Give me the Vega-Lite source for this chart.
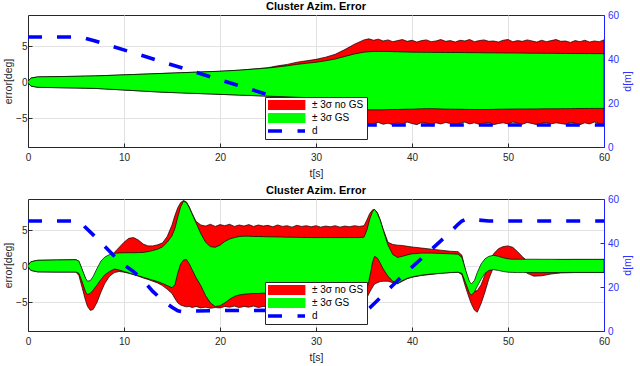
{
  "$schema": "https://vega.github.io/schema/vega-lite/v6.json",
  "padding": {"left": 3, "top": 0, "right": 0, "bottom": 0},
  "config": {
    "font": "Liberation Sans",
    "view": {"stroke": "#262626", "strokeWidth": 1},
    "axis": {"labelFont": "Liberation Sans", "labelFontSize": 10, "labelColor": "#262626", "titleFont": "Liberation Sans", "titleFontSize": 10.5, "titleFontWeight": "normal", "titleColor": "#262626", "domainColor": "#262626", "tickColor": "#262626", "tickSize": -4, "gridColor": "#e2e2e2", "gridOpacity": 1, "labelFlush": false},
    "title": {"font": "Liberation Sans", "fontSize": 11, "fontWeight": "bold", "color": "black", "offset": -2, "anchor": "middle"},
    "legend": {"title": null, "orient": "none", "fillColor": "white", "strokeColor": "#262626", "padding": 3, "rowPadding": 3, "clipHeight": 10, "labelFontSize": 10, "labelFont": "Liberation Sans", "labelColor": "black", "symbolSize": 100, "labelOffset": 34, "symbolType": "M-1,-1H6.4V1H-1Z", "symbolStrokeColor": "#000000", "symbolStrokeWidth": 0.8, "symbolOpacity": 1}
  },
  "datasets": {
    "top": [
      {"t":0,"gl":-0.1,"gh":0.1,"rl":-0.1,"rh":0.1,"d":50},
      {"t":0.3,"gl":-0.55,"gh":0.55,"rl":-0.55,"rh":0.55},
      {"t":1,"gl":-0.72,"gh":0.72,"rl":-0.72,"rh":0.72},
      {"t":2,"gl":-0.75,"gh":0.74,"rl":-0.75,"rh":0.74},
      {"t":4,"gl":-0.8,"gh":0.78,"rl":-0.8,"rh":0.78},
      {"t":5,"gl":-0.82,"gh":0.8,"rl":-0.82,"rh":0.8,"d":50},
      {"t":6,"gl":-0.85,"gh":0.83,"rl":-0.85,"rh":0.83,"d":49.4},
      {"t":7,"gl":-0.88,"gh":0.86,"rl":-0.88,"rh":0.86,"d":48.2},
      {"t":8,"gl":-0.95,"gh":0.9,"rl":-0.95,"rh":0.9},
      {"t":10,"gl":-1.1,"gh":1.0,"rl":-1.1,"rh":1.0},
      {"t":12,"gl":-1.25,"gh":1.1,"rl":-1.25,"rh":1.1},
      {"t":14,"gl":-1.4,"gh":1.2,"rl":-1.4,"rh":1.2},
      {"t":16,"gl":-1.5,"gh":1.3,"rl":-1.5,"rh":1.3},
      {"t":18,"gl":-1.6,"gh":1.4,"rl":-1.6,"rh":1.4},
      {"t":20,"gl":-1.7,"gh":1.5,"rl":-1.7,"rh":1.5},
      {"t":22,"gl":-1.8,"gh":1.65,"rl":-1.8,"rh":1.65},
      {"t":24,"gl":-1.9,"gh":1.85,"rl":-1.9,"rh":1.87},
      {"t":25,"gl":-1.95,"gh":1.95,"rl":-1.95,"rh":2.0},
      {"t":26,"gl":-2.0,"gh":2.1,"rl":-2.05,"rh":2.25},
      {"t":27,"gl":-2.05,"gh":2.25,"rl":-2.15,"rh":2.45},
      {"t":28,"gl":-2.1,"gh":2.45,"rl":-2.25,"rh":2.75},
      {"t":29,"gl":-2.15,"gh":2.6,"rl":-2.4,"rh":2.95},
      {"t":30,"gl":-2.2,"gh":2.75,"rl":-2.6,"rh":3.15},
      {"t":31,"gl":-2.4,"gh":2.95,"rl":-2.9,"rh":3.45},
      {"t":32,"gl":-2.7,"gh":3.2,"rl":-3.4,"rh":3.85},
      {"t":33,"gl":-3.1,"gh":3.55,"rl":-4.1,"rh":4.5},
      {"t":34,"gl":-3.55,"gh":3.9,"rl":-4.9,"rh":5.25},
      {"t":35,"gl":-3.8,"gh":4.15,"rl":-5.6,"rh":5.85,"d":10.2},
      {"t":35.5,"gl":-3.85,"gh":4.2,"rl":-5.75,"rh":6.0,"d":10},
      {"t":36,"gl":-3.85,"gh":4.25,"rl":-5.75,"rh":5.8},
      {"t":36.5,"gl":-3.85,"gh":4.25,"rl":-5.6,"rh":5.95},
      {"t":37,"gl":-3.85,"gh":4.25,"rl":-5.85,"rh":5.7},
      {"t":37.5,"gl":-3.82,"gh":4.25,"rl":-5.7,"rh":5.85},
      {"t":38,"gl":-3.8,"gh":4.22,"rl":-5.9,"rh":5.6},
      {"t":38.5,"gl":-3.8,"gh":4.2,"rl":-5.65,"rh":5.75},
      {"t":39,"gl":-3.78,"gh":4.18,"rl":-5.8,"rh":5.9},
      {"t":39.5,"gl":-3.76,"gh":4.16,"rl":-5.55,"rh":5.65},
      {"t":40,"gl":-3.75,"gh":4.15,"rl":-5.75,"rh":5.8},
      {"t":40.5,"gl":-3.72,"gh":4.14,"rl":-5.9,"rh":5.55},
      {"t":41,"gl":-3.7,"gh":4.13,"rl":-5.6,"rh":5.75},
      {"t":41.5,"gl":-3.68,"gh":4.12,"rl":-5.7,"rh":5.85},
      {"t":42,"gl":-3.68,"gh":4.12,"rl":-5.85,"rh":5.6},
      {"t":42.5,"gl":-3.7,"gh":4.11,"rl":-5.65,"rh":5.7},
      {"t":43,"gl":-3.72,"gh":4.11,"rl":-5.8,"rh":5.9},
      {"t":43.5,"gl":-3.74,"gh":4.1,"rl":-5.6,"rh":5.65},
      {"t":44,"gl":-3.75,"gh":4.1,"rl":-5.75,"rh":5.75},
      {"t":44.5,"gl":-3.76,"gh":4.1,"rl":-5.9,"rh":5.55},
      {"t":45,"gl":-3.77,"gh":4.1,"rl":-5.7,"rh":5.8},
      {"t":45.5,"gl":-3.78,"gh":4.09,"rl":-5.55,"rh":5.7},
      {"t":46,"gl":-3.79,"gh":4.08,"rl":-5.8,"rh":5.9},
      {"t":46.5,"gl":-3.8,"gh":4.08,"rl":-5.65,"rh":5.6},
      {"t":47,"gl":-3.8,"gh":4.07,"rl":-5.85,"rh":5.75},
      {"t":47.5,"gl":-3.8,"gh":4.06,"rl":-5.7,"rh":5.85},
      {"t":48,"gl":-3.8,"gh":4.05,"rl":-5.6,"rh":5.65},
      {"t":48.5,"gl":-3.78,"gh":4.05,"rl":-5.9,"rh":5.7},
      {"t":49,"gl":-3.76,"gh":4.04,"rl":-5.75,"rh":5.55},
      {"t":49.5,"gl":-3.75,"gh":4.04,"rl":-5.65,"rh":5.8},
      {"t":50,"gl":-3.74,"gh":4.03,"rl":-5.8,"rh":5.9},
      {"t":50.5,"gl":-3.73,"gh":4.03,"rl":-5.55,"rh":5.6},
      {"t":51,"gl":-3.72,"gh":4.02,"rl":-5.7,"rh":5.75},
      {"t":51.5,"gl":-3.72,"gh":4.02,"rl":-5.85,"rh":5.65},
      {"t":52,"gl":-3.72,"gh":4.01,"rl":-5.6,"rh":5.85},
      {"t":52.5,"gl":-3.72,"gh":4.0,"rl":-5.75,"rh":5.7},
      {"t":53,"gl":-3.72,"gh":4.0,"rl":-5.9,"rh":5.55},
      {"t":53.5,"gl":-3.71,"gh":3.99,"rl":-5.7,"rh":5.8},
      {"t":54,"gl":-3.7,"gh":3.99,"rl":-5.6,"rh":5.6},
      {"t":54.5,"gl":-3.7,"gh":3.98,"rl":-5.8,"rh":5.75},
      {"t":55,"gl":-3.7,"gh":3.98,"rl":-5.65,"rh":5.9},
      {"t":55.5,"gl":-3.69,"gh":3.97,"rl":-5.75,"rh":5.65},
      {"t":56,"gl":-3.68,"gh":3.97,"rl":-5.85,"rh":5.7},
      {"t":56.5,"gl":-3.68,"gh":3.96,"rl":-5.6,"rh":5.5},
      {"t":57,"gl":-3.67,"gh":3.96,"rl":-5.7,"rh":5.75},
      {"t":57.5,"gl":-3.66,"gh":3.95,"rl":-5.9,"rh":5.6},
      {"t":58,"gl":-3.66,"gh":3.95,"rl":-5.65,"rh":5.8},
      {"t":58.5,"gl":-3.65,"gh":3.95,"rl":-5.8,"rh":5.55},
      {"t":59,"gl":-3.65,"gh":3.94,"rl":-5.55,"rh":5.7},
      {"t":59.5,"gl":-3.65,"gh":3.94,"rl":-5.75,"rh":5.6},
      {"t":60,"gl":-3.65,"gh":3.93,"rl":-5.7,"rh":5.85,"d":10}
    ],
    "bot": [
      {"t":0,"gl":-0.1,"gh":0.1,"rl":-0.1,"rh":0.1,"d":50},
      {"t":0.3,"gl":-0.6,"gh":0.6,"rl":-0.6,"rh":0.6},
      {"t":1,"gl":-0.8,"gh":0.8,"rl":-0.8,"rh":0.8},
      {"t":3,"gl":-0.83,"gh":0.85,"rl":-0.83,"rh":0.85},
      {"t":5,"gl":-0.83,"gh":0.88,"rl":-0.83,"rh":0.88,"d":50},
      {"t":5.3,"gl":-1.0,"gh":0.7,"rl":-1.3,"rh":0.65},
      {"t":5.6,"gl":-2.0,"gh":-0.3,"rl":-2.8,"rh":-0.4,"d":49},
      {"t":6.0,"gl":-3.6,"gh":-1.7,"rl":-4.8,"rh":-1.8,"d":47},
      {"t":6.2,"gl":-3.95,"gh":-2.1,"rl":-5.6,"rh":-2.3},
      {"t":6.5,"gl":-3.75,"gh":-2.0,"rl":-6.15,"rh":-2.6},
      {"t":6.8,"gl":-3.3,"gh":-1.4,"rl":-6.0,"rh":-2.3},
      {"t":7.2,"gl":-2.6,"gh":-0.3,"rl":-5.0,"rh":-1.5,"d":42},
      {"t":7.6,"gl":-1.85,"gh":0.7,"rl":-3.6,"rh":-0.5},
      {"t":8.0,"gl":-1.2,"gh":1.25,"rl":-2.4,"rh":0.5,"d":38.5},
      {"t":8.5,"gl":-0.75,"gh":1.6,"rl":-1.4,"rh":1.3},
      {"t":9.0,"gl":-0.4,"gh":1.78,"rl":-0.9,"rh":1.9,"d":34},
      {"t":9.5,"gl":-0.55,"gh":1.82,"rl":-0.75,"rh":2.6},
      {"t":10,"gl":-0.75,"gh":1.85,"rl":-0.85,"rh":3.3,"d":30},
      {"t":10.5,"gl":-0.95,"gh":1.85,"rl":-1.0,"rh":3.85},
      {"t":11,"gl":-1.15,"gh":1.85,"rl":-1.2,"rh":3.95,"d":27},
      {"t":11.5,"gl":-1.35,"gh":1.87,"rl":-1.4,"rh":3.6},
      {"t":12,"gl":-1.55,"gh":1.9,"rl":-1.65,"rh":3.05,"d":23},
      {"t":12.5,"gl":-1.75,"gh":2.0,"rl":-1.85,"rh":2.8},
      {"t":13,"gl":-1.95,"gh":2.15,"rl":-2.1,"rh":2.8,"d":18},
      {"t":13.5,"gl":-2.15,"gh":2.35,"rl":-2.35,"rh":2.95},
      {"t":14,"gl":-2.4,"gh":2.65,"rl":-2.7,"rh":3.2,"d":14},
      {"t":14.5,"gl":-2.7,"gh":3.3,"rl":-3.2,"rh":4.1},
      {"t":15,"gl":-3.0,"gh":4.2,"rl":-3.8,"rh":5.7,"d":10.8},
      {"t":15.3,"gl":-2.6,"gh":5.2,"rl":-4.5,"rh":7.0},
      {"t":15.6,"gl":-1.0,"gh":6.8,"rl":-5.1,"rh":8.1,"d":9.2},
      {"t":15.9,"gl":0.3,"gh":8.2,"rl":-5.4,"rh":8.8},
      {"t":16.2,"gl":0.85,"gh":9.0,"rl":-5.55,"rh":9.1,"d":8.7},
      {"t":16.5,"gl":0.9,"gh":8.8,"rl":-5.65,"rh":8.9,"d":8.7},
      {"t":16.8,"gl":0.3,"gh":8.1,"rl":-5.6,"rh":8.2},
      {"t":17.1,"gl":-0.5,"gh":7.2,"rl":-5.75,"rh":7.3},
      {"t":17.5,"gl":-1.6,"gh":6.0,"rl":-5.6,"rh":6.2,"d":9.1},
      {"t":18,"gl":-2.7,"gh":4.5,"rl":-5.8,"rh":5.7},
      {"t":18.5,"gl":-4.1,"gh":3.3,"rl":-5.7,"rh":5.55},
      {"t":19,"gl":-5.1,"gh":2.7,"rl":-5.85,"rh":5.8},
      {"t":19.5,"gl":-5.6,"gh":2.6,"rl":-5.75,"rh":5.5},
      {"t":20,"gl":-5.5,"gh":2.9,"rl":-5.8,"rh":5.75,"d":9.3},
      {"t":20.5,"gl":-5.1,"gh":3.4,"rl":-5.6,"rh":5.6},
      {"t":21,"gl":-4.6,"gh":3.75,"rl":-5.7,"rh":5.8},
      {"t":21.5,"gl":-4.2,"gh":3.95,"rl":-5.55,"rh":5.5},
      {"t":22,"gl":-4.0,"gh":4.1,"rl":-5.75,"rh":5.7},
      {"t":22.5,"gl":-3.9,"gh":4.15,"rl":-5.6,"rh":5.55},
      {"t":23,"gl":-3.85,"gh":4.15,"rl":-5.7,"rh":5.75},
      {"t":23.5,"gl":-3.8,"gh":4.1,"rl":-5.55,"rh":5.5},
      {"t":24,"gl":-3.8,"gh":4.1,"rl":-5.75,"rh":5.7},
      {"t":24.5,"gl":-3.75,"gh":4.08,"rl":-5.6,"rh":5.55},
      {"t":25,"gl":-3.75,"gh":4.05,"rl":-5.7,"rh":5.65},
      {"t":25.5,"gl":-3.75,"gh":4.05,"rl":-5.85,"rh":5.45},
      {"t":26,"gl":-3.75,"gh":4.03,"rl":-5.6,"rh":5.7},
      {"t":26.5,"gl":-3.75,"gh":4.02,"rl":-5.75,"rh":5.5},
      {"t":27,"gl":-3.75,"gh":4.0,"rl":-5.65,"rh":5.6},
      {"t":27.5,"gl":-3.78,"gh":4.0,"rl":-5.8,"rh":5.4},
      {"t":28,"gl":-3.8,"gh":3.98,"rl":-5.6,"rh":5.65},
      {"t":28.5,"gl":-3.8,"gh":3.97,"rl":-5.75,"rh":5.5},
      {"t":29,"gl":-3.8,"gh":3.96,"rl":-5.55,"rh":5.6},
      {"t":29.5,"gl":-3.8,"gh":3.95,"rl":-5.8,"rh":5.45},
      {"t":30,"gl":-3.8,"gh":3.95,"rl":-5.65,"rh":5.6},
      {"t":30.5,"gl":-3.8,"gh":3.95,"rl":-5.75,"rh":5.4},
      {"t":31,"gl":-3.8,"gh":3.95,"rl":-5.6,"rh":5.55},
      {"t":31.5,"gl":-3.8,"gh":3.95,"rl":-5.8,"rh":5.45},
      {"t":32,"gl":-3.8,"gh":3.95,"rl":-5.65,"rh":5.6},
      {"t":32.5,"gl":-3.8,"gh":3.95,"rl":-5.75,"rh":5.4},
      {"t":33,"gl":-3.8,"gh":3.95,"rl":-5.6,"rh":5.55},
      {"t":33.5,"gl":-3.8,"gh":3.95,"rl":-5.8,"rh":5.45},
      {"t":34,"gl":-3.8,"gh":3.95,"rl":-5.65,"rh":5.6},
      {"t":34.5,"gl":-3.8,"gh":3.95,"rl":-5.7,"rh":5.5},
      {"t":35,"gl":-3.8,"gh":4.0,"rl":-5.6,"rh":5.6},
      {"t":35.3,"gl":-3.3,"gh":5.0,"rl":-4.4,"rh":6.4,"d":9.5},
      {"t":35.6,"gl":-1.5,"gh":6.5,"rl":-3.6,"rh":7.3,"d":10.5},
      {"t":35.9,"gl":0.6,"gh":7.6,"rl":-2.9,"rh":7.8},
      {"t":36.1,"gl":1.35,"gh":7.85,"rl":-2.5,"rh":7.85,"d":12.6},
      {"t":36.4,"gl":1.1,"gh":7.3,"rl":-2.3,"rh":7.4},
      {"t":36.7,"gl":0.4,"gh":6.3,"rl":-2.15,"rh":6.4},
      {"t":37,"gl":-0.4,"gh":5.0,"rl":-2.1,"rh":5.1,"d":16.5},
      {"t":37.5,"gl":-1.4,"gh":2.9,"rl":-2.1,"rh":3.3},
      {"t":38,"gl":-2.1,"gh":1.6,"rl":-2.3,"rh":3.0,"d":20.8},
      {"t":38.5,"gl":-2.4,"gh":1.2,"rl":-2.45,"rh":2.9},
      {"t":39,"gl":-2.0,"gh":1.35,"rl":-2.1,"rh":2.85,"d":25},
      {"t":39.5,"gl":-1.7,"gh":1.55,"rl":-1.75,"rh":2.75},
      {"t":40,"gl":-1.5,"gh":1.7,"rl":-1.55,"rh":2.65,"d":29},
      {"t":41,"gl":-1.25,"gh":1.8,"rl":-1.3,"rh":2.5,"d":33},
      {"t":42,"gl":-1.1,"gh":1.8,"rl":-1.15,"rh":2.35,"d":37},
      {"t":43,"gl":-1.0,"gh":1.75,"rl":-1.0,"rh":2.2,"d":41},
      {"t":44,"gl":-0.9,"gh":1.7,"rl":-0.9,"rh":2.05,"d":45},
      {"t":44.8,"gl":-0.85,"gh":1.65,"rl":-0.85,"rh":2.0,"d":48.5},
      {"t":45.2,"gl":-1.0,"gh":1.2,"rl":-1.2,"rh":1.5,"d":50},
      {"t":45.6,"gl":-2.4,"gh":-0.6,"rl":-3.0,"rh":-0.8,"d":50.8},
      {"t":46,"gl":-3.8,"gh":-2.2,"rl":-4.6,"rh":-2.6,"d":51},
      {"t":46.2,"gl":-4.0,"gh":-2.45,"rl":-5.3,"rh":-3.0},
      {"t":46.5,"gl":-3.6,"gh":-2.0,"rl":-6.1,"rh":-3.5,"d":50.8},
      {"t":46.8,"gl":-2.8,"gh":-0.9,"rl":-6.4,"rh":-3.4,"d":50.5},
      {"t":47.2,"gl":-1.8,"gh":0.3,"rl":-5.2,"rh":-2.6},
      {"t":47.6,"gl":-1.0,"gh":1.0,"rl":-3.6,"rh":-1.2},
      {"t":48,"gl":-0.6,"gh":1.35,"rl":-1.8,"rh":0.4,"d":50},
      {"t":48.5,"gl":-0.5,"gh":1.5,"rl":-0.1,"rh":1.7},
      {"t":49,"gl":-0.6,"gh":1.35,"rl":0.6,"rh":2.4},
      {"t":49.5,"gl":-0.75,"gh":1.15,"rl":0.9,"rh":2.7},
      {"t":50,"gl":-0.85,"gh":1.0,"rl":0.95,"rh":2.8},
      {"t":50.5,"gl":-0.88,"gh":0.95,"rl":0.8,"rh":2.6},
      {"t":51,"gl":-0.9,"gh":0.95,"rl":0.3,"rh":2.0},
      {"t":51.5,"gl":-0.9,"gh":0.95,"rl":-0.4,"rh":1.3},
      {"t":52,"gl":-0.9,"gh":0.95,"rl":-1.0,"rh":0.7},
      {"t":52.7,"gl":-0.9,"gh":0.95,"rl":-1.4,"rh":0.4},
      {"t":53.5,"gl":-0.9,"gh":0.94,"rl":-1.35,"rh":0.5},
      {"t":54.5,"gl":-0.9,"gh":0.94,"rl":-1.1,"rh":0.75},
      {"t":55.5,"gl":-0.89,"gh":0.93,"rl":-0.95,"rh":0.9},
      {"t":57,"gl":-0.88,"gh":0.93,"rl":-0.9,"rh":0.92},
      {"t":60,"gl":-0.88,"gh":0.93,"rl":-0.9,"rh":0.92,"d":50}
    ]
  },
  "spacing": 52,
  "bounds": "flush",
  "resolve": {"scale": {"color": "independent"}, "legend": {"color": "independent"}},
  "vconcat": [
    {
      "width": 576, "height": 132,
      "title": "Cluster Azim. Error",
      "data": {"name": "top"},
      "resolve": {"scale": {"y": "independent"}},
      "layer": [
        {
          "layer": [
            {
              "mark": {"type": "area", "stroke": "black", "strokeWidth": 0.7, "opacity": 1, "clip": true},
              "encoding": {
                "x": {"field": "t", "type": "quantitative", "scale": {"domain": [0, 60], "nice": false}, "axis": {"values": [0,10,20,30,40,50,60], "title": "t[s]", "grid": true, "labelPadding": 9.5, "titlePadding": 6}},
                "y": {"field": "rl", "type": "quantitative", "scale": {"domain": [-9, 9.3], "nice": false}, "axis": {"values": [-5,0,5], "title": "error[deg]", "grid": true, "labelPadding": 5, "titlePadding": 2}},
                "y2": {"field": "rh"},
                "color": {"datum": "± 3σ no GS", "type": "nominal",
                  "scale": {"domain": ["± 3σ no GS", "± 3σ GS", "d"], "range": ["#ff0000", "#00ff00", "#0000ff"]},
                  "legend": {"legendX": 237, "legendY": 82,
                    "encode": {"symbols": {"update": {
                      "shape": {"signal": "datum.value === 'd' ? 'M-1,0H1.8M4.9,0H6.4' : 'M-1,-1H6.4V1H-1Z'"},
                      "fill": {"signal": "datum.value === 'd' ? 'transparent' : (datum.value === '± 3σ GS' ? '#00ff00' : '#ff0000')"},
                      "stroke": {"signal": "datum.value === 'd' ? '#0000ff' : '#000000'"},
                      "strokeWidth": {"signal": "datum.value === 'd' ? 3.5 : 0.8"},
                      "strokeDash": {"value": []},
                      "opacity": {"value": 1}
                    }}}}
                }
              }
            },
            {
              "mark": {"type": "area", "stroke": "black", "strokeWidth": 0.7, "opacity": 1, "clip": true},
              "encoding": {
                "x": {"field": "t", "type": "quantitative", "scale": {"domain": [0, 60], "nice": false}, "axis": {"values": [0,10,20,30,40,50,60], "title": "t[s]", "grid": true, "labelPadding": 9.5, "titlePadding": 6}},
                "y": {"field": "gl", "type": "quantitative", "scale": {"domain": [-9, 9.3], "nice": false}, "axis": {"values": [-5,0,5], "title": "error[deg]", "grid": true, "labelPadding": 5, "titlePadding": 2}},
                "y2": {"field": "gh"},
                "color": {"datum": "± 3σ GS", "type": "nominal"}
              }
            }
          ]
        },
        {
          "transform": [{"filter": "isValid(datum.d)"}],
          "mark": {"type": "line", "strokeDash": [14, 15], "strokeWidth": 3.6, "clip": true},
          "encoding": {
            "x": {"field": "t", "type": "quantitative", "scale": {"domain": [0, 60], "nice": false}, "axis": {"values": [0,10,20,30,40,50,60], "title": "t[s]", "grid": true, "labelPadding": 9.5, "titlePadding": 6}},
            "y": {"field": "d", "type": "quantitative", "scale": {"domain": [0, 60], "nice": false}, "axis": {"orient": "right", "values": [0,20,40,60], "title": "d[m]", "grid": false, "labelPadding": 7.5, "titlePadding": 4, "domainColor": "#2020ff", "tickColor": "#2020ff", "labelColor": "#3030ff", "titleColor": "#3030ff", "titleAngle": 270, "titleBaseline": "top"}},
            "color": {"datum": "d", "type": "nominal"}
          }
        }
      ]
    },
    {
      "width": 576, "height": 132,
      "title": "Cluster Azim. Error",
      "data": {"name": "bot"},
      "resolve": {"scale": {"y": "independent"}},
      "layer": [
        {
          "layer": [
            {
              "mark": {"type": "area", "stroke": "black", "strokeWidth": 0.7, "opacity": 1, "clip": true},
              "encoding": {
                "x": {"field": "t", "type": "quantitative", "scale": {"domain": [0, 60], "nice": false}, "axis": {"values": [0,10,20,30,40,50,60], "title": "t[s]", "grid": true, "labelPadding": 9.5, "titlePadding": 6}},
                "y": {"field": "rl", "type": "quantitative", "scale": {"domain": [-9, 9.3], "nice": false}, "axis": {"values": [-5,0,5], "title": "error[deg]", "grid": true, "labelPadding": 5, "titlePadding": 2}},
                "y2": {"field": "rh"},
                "color": {"datum": "± 3σ no GS", "type": "nominal",
                  "scale": {"domain": ["± 3σ no GS", "± 3σ GS", "d"], "range": ["#ff0000", "#00ff00", "#0000ff"]},
                  "legend": {"legendX": 237, "legendY": 83,
                    "encode": {"symbols": {"update": {
                      "shape": {"signal": "datum.value === 'd' ? 'M-1,0H1.8M4.9,0H6.4' : 'M-1,-1H6.4V1H-1Z'"},
                      "fill": {"signal": "datum.value === 'd' ? 'transparent' : (datum.value === '± 3σ GS' ? '#00ff00' : '#ff0000')"},
                      "stroke": {"signal": "datum.value === 'd' ? '#0000ff' : '#000000'"},
                      "strokeWidth": {"signal": "datum.value === 'd' ? 3.5 : 0.8"},
                      "strokeDash": {"value": []},
                      "opacity": {"value": 1}
                    }}}}
                }
              }
            },
            {
              "mark": {"type": "area", "stroke": "black", "strokeWidth": 0.7, "opacity": 1, "clip": true},
              "encoding": {
                "x": {"field": "t", "type": "quantitative", "scale": {"domain": [0, 60], "nice": false}, "axis": {"values": [0,10,20,30,40,50,60], "title": "t[s]", "grid": true, "labelPadding": 9.5, "titlePadding": 6}},
                "y": {"field": "gl", "type": "quantitative", "scale": {"domain": [-9, 9.3], "nice": false}, "axis": {"values": [-5,0,5], "title": "error[deg]", "grid": true, "labelPadding": 5, "titlePadding": 2}},
                "y2": {"field": "gh"},
                "color": {"datum": "± 3σ GS", "type": "nominal"}
              }
            }
          ]
        },
        {
          "transform": [{"filter": "isValid(datum.d)"}],
          "mark": {"type": "line", "strokeDash": [14, 15], "strokeWidth": 3.6, "clip": true},
          "encoding": {
            "x": {"field": "t", "type": "quantitative", "scale": {"domain": [0, 60], "nice": false}, "axis": {"values": [0,10,20,30,40,50,60], "title": "t[s]", "grid": true, "labelPadding": 9.5, "titlePadding": 6}},
            "y": {"field": "d", "type": "quantitative", "scale": {"domain": [0, 60], "nice": false}, "axis": {"orient": "right", "values": [0,20,40,60], "title": "d[m]", "grid": false, "labelPadding": 7.5, "titlePadding": 4, "domainColor": "#2020ff", "tickColor": "#2020ff", "labelColor": "#3030ff", "titleColor": "#3030ff", "titleAngle": 270, "titleBaseline": "top"}},
            "color": {"datum": "d", "type": "nominal"}
          }
        }
      ]
    }
  ]
}
